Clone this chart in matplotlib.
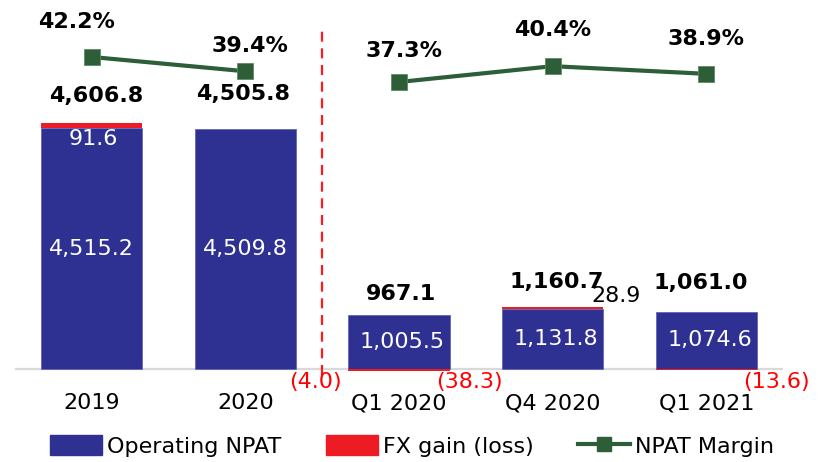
import numpy as np
import matplotlib
matplotlib.use('Agg')
import matplotlib.pyplot as plt
from matplotlib.patches import Patch
from matplotlib.lines import Line2D

# --- data ---
categories = ['2019', '2020', 'Q1 2020', 'Q4 2020', 'Q1 2021']
operating_npat = [4515.2, 4509.8, 1005.5, 1131.8, 1074.6]
fx_gain = [91.6, -4.0, -38.3, 28.9, -13.6]
total_npat = [4606.8, 4505.8, 967.1, 1160.7, 1061.0]
npat_margin = [42.2, 39.4, 37.3, 40.4, 38.9]

BLUE = '#2E3192'
RED = '#ED1C24'
GREEN = '#2D5E37'

plt.rcParams['font.family'] = ['DejaVu Sans']
FS = 16

W, H = 829, 462
fig = plt.figure(figsize=(W / 100, H / 100), dpi=100)

# axes placed in pixel terms
ax_left, ax_right, ax_top, ax_bottom = 15, 783, 5, 375
ax = fig.add_axes([ax_left / W, 1 - ax_bottom / H, (ax_right - ax_left) / W, (ax_bottom - ax_top) / H])

px_per_unit = 0.0533
base_px = 369
ax.set_ylim(-(ax_bottom - base_px) / px_per_unit, (base_px - ax_top) / px_per_unit)
ax.set_xlim(-0.5, 4.5)

x = np.arange(len(categories))
bw = 0.66

ax.bar(x, operating_npat, width=bw, color=BLUE, edgecolor='#6367b0', linewidth=0.6, zorder=2)
fx_bottom = [o if f > 0 else 0 for o, f in zip(operating_npat, fx_gain)]
ax.bar(x, fx_gain, width=bw, bottom=fx_bottom, color=RED, linewidth=0, zorder=2)
ax.axhline(0, color='#d9d9d9', lw=1.6, zorder=1)

# dashed divider between years and quarters
ax.axvline(1.5, ymin=0.0, ymax=(ax_bottom - 28) / (ax_bottom - ax_top),
           color='#FF1A1A', lw=1.6, dashes=(4.5, 3), zorder=3)

for s in ax.spines.values():
    s.set_visible(False)
ax.set_yticks([])
ax.set_xticks(x)
ax.set_xticklabels(categories, fontsize=FS)
ax.tick_params(axis='x', length=0, pad=13)

# white labels inside the bars
inner_dx = [0, 0, 3, 3, 4]
for i, v in enumerate(operating_npat):
    ax.annotate(f'{v:,.1f}', (x[i], v / 2), xytext=(inner_dx[i], 0), textcoords='offset pixels',
                ha='center', va='center', color='white', fontsize=FS, zorder=4)

# fx labels
for i, v in enumerate(fx_gain):
    if v > 0:
        if i == 0:
            ax.annotate(f'{v:,.1f}', (x[i], operating_npat[i]), xytext=(2, -11), textcoords='offset pixels',
                        ha='center', va='center', color='white', fontsize=FS, zorder=4)
        else:
            ax.annotate(f'{v:,.1f}', (x[i], total_npat[i]), xytext=(63, 11), textcoords='offset pixels',
                        ha='center', va='center', color='black', fontsize=FS, zorder=4)
    else:
        ax.annotate(f'({-v:,.1f})', (x[i], 0), xytext=(70, -13), textcoords='offset pixels',
                    ha='center', va='center', color='#FF0000', fontsize=FS, zorder=4)

# total NPAT labels
tot_off = [(4, 27), (-2, 35), (2, 21), (4, 25), (-5, 29)]
for i, v in enumerate(total_npat):
    top = max(operating_npat[i], total_npat[i])
    ax.annotate(f'{v:,.1f}', (x[i], top), xytext=tot_off[i], textcoords='offset pixels',
                ha='center', va='center', fontsize=FS, fontweight='bold', color='black', zorder=4)

# NPAT margin on secondary axis, years and quarters drawn as separate segments
ax2 = ax.twinx()
m_px = 5.1
ax2.set_ylim(42.2 - (ax_bottom - 57) / m_px, 42.2 + (57 - ax_top) / m_px)
for seg in (slice(0, 2), slice(2, 5)):
    ax2.plot(x[seg], npat_margin[seg], color=GREEN, lw=3, marker='s', markersize=12,
             markerfacecolor=GREEN, markeredgecolor='#5d8a66', markeredgewidth=0.6, zorder=5)
ax2.set_yticks([])
for s in ax2.spines.values():
    s.set_visible(False)
pct_off = [(-15, 35), (5, 25), (5, 31), (0, 36), (0, 35)]
for i, v in enumerate(npat_margin):
    ax2.annotate(f'{v:.1f}%', (x[i], v), xytext=pct_off[i], textcoords='offset pixels',
                 ha='center', va='center', fontsize=FS, fontweight='bold', color='black')

# legend
handles = [Patch(facecolor=BLUE, edgecolor=BLUE, label='Operating NPAT'),
           Patch(facecolor=RED, edgecolor=RED, label='FX gain (loss)'),
           Line2D([0], [0], color=GREEN, lw=3, marker='s', markersize=10, label='NPAT Margin')]
fig.legend(handles=handles, loc='center', bbox_to_anchor=(0.497, 1 - 446 / H), ncol=3,
           frameon=False, fontsize=FS, handlelength=2.35, handleheight=1.0,
           handletextpad=0.22, columnspacing=2.0, borderaxespad=0)

fig.savefig('out.png', dpi=100)
